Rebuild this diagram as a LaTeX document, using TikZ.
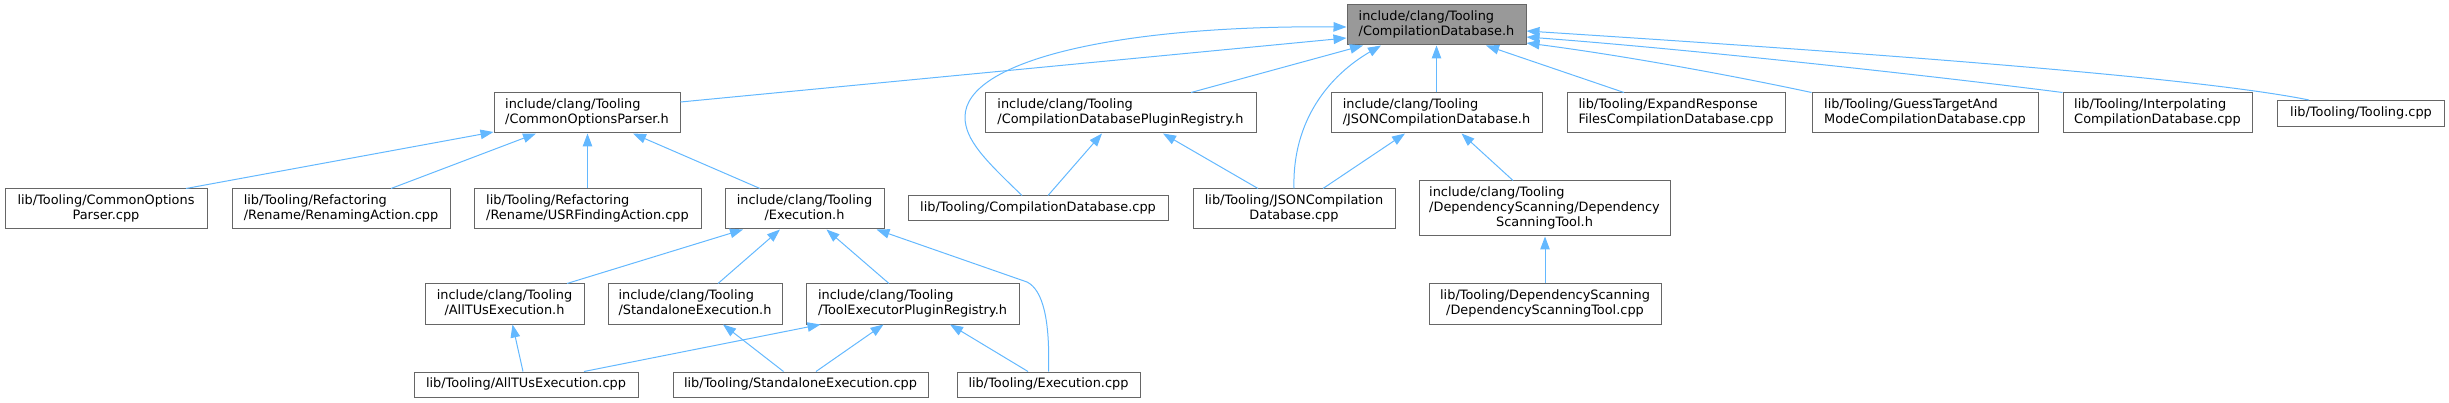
\documentclass[tikz,border=0pt]{standalone}
\usepackage{fontspec}
\setmainfont{DejaVu Sans}
\usetikzlibrary{arrows.meta}
\definecolor{arrowblue}{HTML}{63B8FF}
\definecolor{boxgray}{HTML}{666666}
\definecolor{rootfill}{HTML}{999999}
\newcommand{\nodefont}{\fontsize{12.9}{15}\selectfont}
\newcommand{\lblone}[1]{\begin{tabular}{@{}c@{}}#1\end{tabular}}
\newcommand{\lbltwo}[2]{\begin{tabular}{@{}l@{}}#1\\\multicolumn{1}{@{}c@{}}{#2}\end{tabular}}
\newcommand{\lblthree}[3]{\begin{tabular}{@{}l@{}}#1\\#2\\\multicolumn{1}{@{}c@{}}{#3}\end{tabular}}
\tikzset{
  filebox/.style={draw=boxgray, fill=white, line width=1pt, inner sep=0pt, font=\nodefont},
  rootbox/.style={filebox, fill=rootfill},
  deparrow/.style={draw=arrowblue, line width=1pt, -{Triangle[length=13pt,width=9.5pt]}}
}
\begin{document}
\begin{tikzpicture}[x=1pt,y=-1pt]
\useasboundingbox (0,0) rectangle (2449,403);
% row 1
\node[rootbox, minimum width=179pt, minimum height=40pt] (cdb) at (1436.5,25) {\lbltwo{include/clang/Tooling}{/CompilationDatabase.h}};
% row 2
\node[filebox, minimum width=186pt, minimum height=40pt] (cop) at (587,113) {\lbltwo{include/clang/Tooling}{/CommonOptionsParser.h}};
\node[filebox, minimum width=271pt, minimum height=40pt] (cdbpr) at (1120.5,113) {\lbltwo{include/clang/Tooling}{/CompilationDatabasePluginRegistry.h}};
\node[filebox, minimum width=211pt, minimum height=40pt] (jsonh) at (1436.5,113) {\lbltwo{include/clang/Tooling}{/JSONCompilationDatabase.h}};
\node[filebox, minimum width=218pt, minimum height=40pt] (expand) at (1676,113) {\lbltwo{lib/Tooling/ExpandResponse}{FilesCompilationDatabase.cpp}};
\node[filebox, minimum width=226pt, minimum height=40pt] (guess) at (1925,113) {\lbltwo{lib/Tooling/GuessTargetAnd}{ModeCompilationDatabase.cpp}};
\node[filebox, minimum width=189pt, minimum height=40pt] (interp) at (2157.5,113) {\lbltwo{lib/Tooling/Interpolating}{CompilationDatabase.cpp}};
\node[filebox, minimum width=167pt, minimum height=26pt] (tooling) at (2361,113.5) {\lblone{lib/Tooling/Tooling.cpp}};
% row 3
\node[filebox, minimum width=202pt, minimum height=40pt] (copcpp) at (106,209) {\lbltwo{lib/Tooling/CommonOptions}{Parser.cpp}};
\node[filebox, minimum width=218pt, minimum height=40pt] (renaming) at (341,209) {\lbltwo{lib/Tooling/Refactoring}{/Rename/RenamingAction.cpp}};
\node[filebox, minimum width=227pt, minimum height=40pt] (usr) at (587.5,209) {\lbltwo{lib/Tooling/Refactoring}{/Rename/USRFindingAction.cpp}};
\node[filebox, minimum width=159pt, minimum height=40pt] (exech) at (804.5,209) {\lbltwo{include/clang/Tooling}{/Execution.h}};
\node[filebox, minimum width=260pt, minimum height=25pt] (cdbcpp) at (1038,208.5) {\lblone{lib/Tooling/CompilationDatabase.cpp}};
\node[filebox, minimum width=202pt, minimum height=40pt] (jsoncpp) at (1294,209) {\lbltwo{lib/Tooling/JSONCompilation}{Database.cpp}};
\node[filebox, minimum width=251pt, minimum height=55pt] (dsth) at (1544.5,208.5) {\lblthree{include/clang/Tooling}{/DependencyScanning/Dependency}{ScanningTool.h}};
% row 4
\node[filebox, minimum width=159pt, minimum height=40pt] (alltush) at (504.5,304) {\lbltwo{include/clang/Tooling}{/AllTUsExecution.h}};
\node[filebox, minimum width=174pt, minimum height=40pt] (standaloneh) at (695,304) {\lbltwo{include/clang/Tooling}{/StandaloneExecution.h}};
\node[filebox, minimum width=213pt, minimum height=40pt] (toolexec) at (912.5,304) {\lbltwo{include/clang/Tooling}{/ToolExecutorPluginRegistry.h}};
\node[filebox, minimum width=232pt, minimum height=40pt] (dstcpp) at (1545,304) {\lbltwo{lib/Tooling/DependencyScanning}{/DependencyScanningTool.cpp}};
% row 5
\node[filebox, minimum width=224pt, minimum height=25pt] (alltuscpp) at (526,384.5) {\lblone{lib/Tooling/AllTUsExecution.cpp}};
\node[filebox, minimum width=255pt, minimum height=25pt] (standalonecpp) at (800.5,384.5) {\lblone{lib/Tooling/StandaloneExecution.cpp}};
\node[filebox, minimum width=183pt, minimum height=25pt] (execcpp) at (1048.5,384.5) {\lblone{lib/Tooling/Execution.cpp}};
% edges to CompilationDatabase.h
\draw[deparrow] ([yshift=11pt]cop.east) -- ([yshift=-13pt]cdb.west);
\draw[deparrow] ([xshift=-16pt]cdbcpp.north) .. controls (985,160) and (965,140) .. (965,117) .. controls (965,60) and (1120,25) .. ([yshift=-2pt]cdb.west);
\draw[deparrow] ([xshift=70.5pt]cdbpr.north) -- ([xshift=-73.5pt]cdb.south);
\draw[deparrow] (jsoncpp.north) .. controls (1292,120) and (1330,75) .. ([xshift=-55.5pt]cdb.south);
\draw[deparrow] (jsonh.north) -- (cdb.south);
\draw[deparrow] ([xshift=-52pt]expand.north) -- ([xshift=49.5pt]cdb.south);
\draw[deparrow] (guess.north west) .. controls (1730,75) and (1620,55) .. ([yshift=-18pt]cdb.east);
\draw[deparrow] (interp.north west) .. controls (1950,78) and (1700,50) .. ([yshift=-12pt]cdb.east);
\draw[deparrow] ([xshift=-52pt]tooling.north) .. controls (2200,78) and (1900,55) .. ([yshift=-6pt]cdb.east);
% edges to CommonOptionsParser.h
\draw[deparrow] ([xshift=80pt]copcpp.north) -- ([yshift=-19pt]cop.west);
\draw[deparrow] ([xshift=50pt]renaming.north) -- ([xshift=-51pt]cop.south);
\draw[deparrow] (usr.north) -- (usr.north |- cop.south);
\draw[deparrow] ([xshift=-44.5pt]exech.north) -- ([xshift=46pt]cop.south);
% edges to Execution.h
\draw[deparrow] ([xshift=62.5pt]alltush.north) -- ([xshift=-61.5pt]exech.south);
\draw[deparrow] ([xshift=23pt]standaloneh.north) -- ([xshift=-24.5pt]exech.south);
\draw[deparrow] ([xshift=-23.5pt]toolexec.north) -- ([xshift=22pt]exech.south);
\draw[deparrow] (execcpp.north) .. controls (1050,320) and (1043,290) .. (1027,282) -- ([xshift=72pt]exech.south);
% bottom row edges
\draw[deparrow] ([xshift=-3pt]alltuscpp.north) -- ([xshift=8pt]alltush.south);
\draw[deparrow] ([xshift=58pt]alltuscpp.north) -- ([xshift=-92pt]toolexec.south);
\draw[deparrow] ([xshift=-17pt]standalonecpp.north) -- ([xshift=28pt]standaloneh.south);
\draw[deparrow] ([xshift=15.5pt]standalonecpp.north) -- ([xshift=-29pt]toolexec.south);
\draw[deparrow] ([xshift=-20.5pt]execcpp.north) -- ([xshift=37.5pt]toolexec.south);
% other edges
\draw[deparrow] ([xshift=10pt]cdbcpp.north) -- ([xshift=-18.5pt]cdbpr.south);
\draw[deparrow] ([xshift=-36pt]jsoncpp.north) -- ([xshift=42.5pt]cdbpr.south);
\draw[deparrow] ([xshift=29pt]jsoncpp.north) -- ([xshift=-31.5pt]jsonh.south);
\draw[deparrow] ([xshift=-31.5pt]dsth.north) -- ([xshift=25pt]jsonh.south);
\draw[deparrow] (dstcpp.north) -- (dstcpp.north |- dsth.south);
\end{tikzpicture}
\end{document}
